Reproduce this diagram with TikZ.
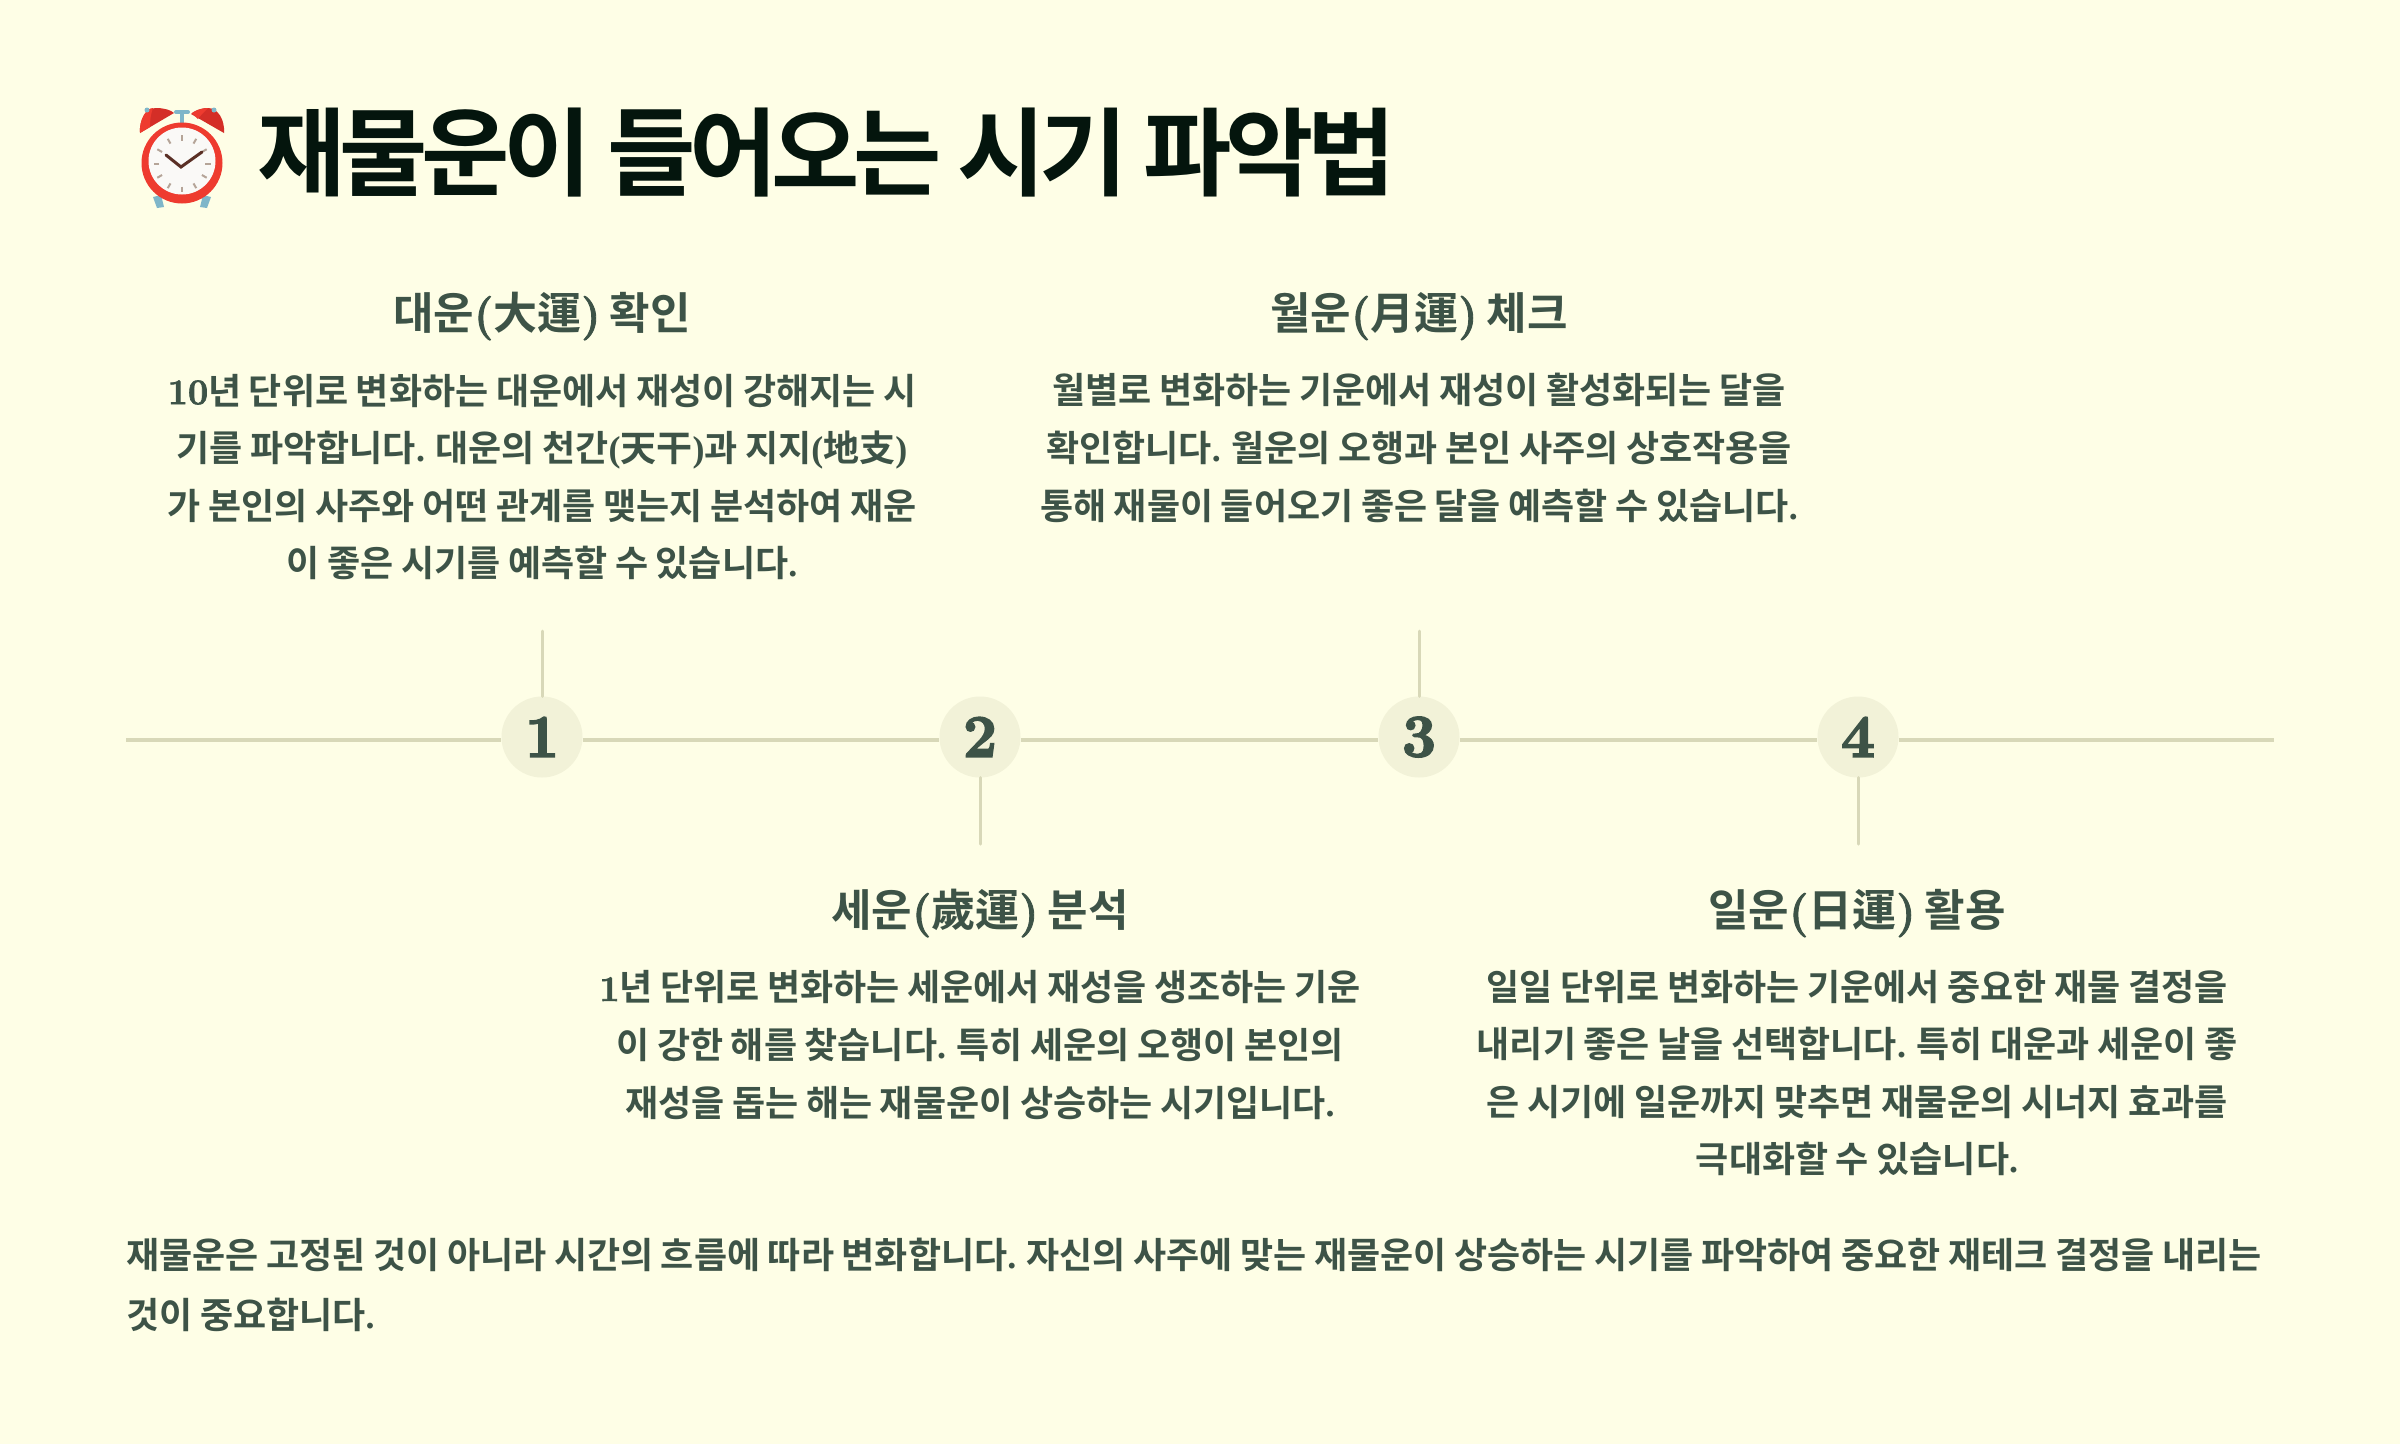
\documentclass[tikz,border=0pt]{standalone}
\usepackage{fontspec}
\newfontfamily\kr{Noto Sans CJK KR Bold}[WordSpace=0.93]
\newfontfamily\krb{Noto Sans CJK KR Bold}[LetterSpace=-6.5]
\newfontfamily\parf{Liberation Serif}
\newfontfamily\numf{Latin Modern Roman}[BoldFeatures={FakeBold=2}]
\newfontfamily\numc{Latin Modern Roman}[BoldFeatures={FakeBold=3.2}]
\newcommand\lat[1]{{\numf\bfseries #1}}
\newcommand\pun[1]{{\parf\bfseries #1}}
\definecolor{bgc}{HTML}{FEFEE6}
\definecolor{titlec}{HTML}{04150D}
\definecolor{bodyc}{HTML}{3D5347}
\definecolor{linec}{HTML}{D8D8B8}
\definecolor{circc}{HTML}{F2F2D8}
\definecolor{clockred}{HTML}{EE3B2F}
\definecolor{belldark}{HTML}{D42E27}
\definecolor{clockblue}{HTML}{7FB6C9}
\definecolor{facec}{HTML}{FAF9F7}
\definecolor{tickc}{HTML}{B5A498}
\definecolor{handc}{HTML}{5A2F25}
\tikzset{
  headtext/.style={inner sep=0pt,text=bodyc,font=\kr\fontsize{44}{54}\selectfont},
  bodytext/.style={inner sep=0pt,text=bodyc,align=center,font=\kr\fontsize{36}{57.6}\selectfont},
  foottext/.style={inner sep=0pt,text=bodyc,align=left,anchor=west,font=\kr\fontsize{36}{59.5}\selectfont},
  titletext/.style={inner sep=0pt,text=titlec,anchor=west,font=\krb\fontsize{96}{110}\selectfont},
  numdot/.style={circle,fill=circc,minimum size=81pt,inner sep=0pt,text=bodyc,font=\numc\bfseries\fontsize{60}{60}\selectfont},
  tline/.style={draw=linec,line width=4pt},
  vline/.style={draw=linec,line width=3pt,line cap=round},
}
\begin{document}
\begin{tikzpicture}[x=1pt,y=-1pt]
\fill[bgc] (0,0) rectangle (2400,1444);
\useasboundingbox (0,0) rectangle (2400,1444);
% clock icon
\fill[clockblue] (153,197) -- (161,195) -- (164,207) -- (157,208) -- cycle;
\fill[clockblue] (211,197) -- (203,195) -- (200,207) -- (207,208) -- cycle;
\draw[clockblue,line width=3.5pt] (182,113) -- (182,125);
\draw[clockblue,line width=4pt,line cap=round] (176,112) -- (188,112);
\fill[belldark] (140,133) .. controls (139,120) and (146,108) .. (156,108) .. controls (164,108) and (171,110) .. (174,113) -- cycle;
\fill[clockred] (140,133) .. controls (139,120) and (146,108) .. (153,108) .. controls (150,116) and (150,124) .. (150,127) -- cycle;
\fill[belldark] (224,133) .. controls (225,120) and (218,108) .. (208,108) .. controls (200,108) and (194,111) .. (191,114) -- cycle;
\fill[clockred] (192,113) .. controls (197,110) and (203,108) .. (208,108) .. controls (204,112) and (199,117) .. (198,119) -- cycle;
\fill[clockblue] (147,110) circle (2.5);
\fill[clockblue] (214,110) circle (2.5);
\fill[clockred] (182,163) circle (40.5);
\fill[facec] (182,161) circle (33.5);
\foreach \a in {0,30,...,330} {\draw[tickc,line width=2pt] (182,163.5) ++(\a:23) -- ++(\a:5.5);}
\draw[handc,line width=3pt,line cap=round] (166,155) -- (181,167) -- (202,152);
% timeline
\coordinate (tlstart) at (126,740);
\coordinate (tlend) at (2274,740);
\coordinate (top1) at (542,631);
\coordinate (top3) at (1419,631);
\coordinate (bot2) at (980,844);
\coordinate (bot4) at (1858,844);
\node[numdot] (n1) at (542,737) {1};
\node[numdot] (n2) at (980,737) {2};
\node[numdot] (n3) at (1419,737) {3};
\node[numdot] (n4) at (1858,737) {4};
\draw[tline] (tlstart) -- (n1.west |- tlstart);
\draw[tline] (n1.east |- tlstart) -- (n2.west |- tlstart);
\draw[tline] (n2.east |- tlstart) -- (n3.west |- tlstart);
\draw[tline] (n3.east |- tlstart) -- (n4.west |- tlstart);
\draw[tline] (n4.east |- tlstart) -- (tlend);
\draw[vline] (top1) -- (n1.north);
\draw[vline] (top3) -- (n3.north);
\draw[vline] (bot2) -- (n2.south);
\draw[vline] (bot4) -- (n4.south);
% texts
\node[titletext] (title) at (257,153) {재물운이 들어오는 시기 파악법};
\node[headtext] (h1) at (542,316) {대운\lat{(}大運\lat{)} 확인};
\node[bodytext] (b1) at (542,477) {\lat{10}년 단위로 변화하는 대운에서 재성이 강해지는 시\\기를 파악합니다\pun{.} 대운의 천간\pun{(}天干\pun{)}과 지지\pun{(}地支\pun{)}\\가 본인의 사주와 어떤 관계를 맺는지 분석하여 재운\\이 좋은 시기를 예측할 수 있습니다\pun{.}};
\node[headtext] (h3) at (1419,316) {월운\lat{(}月運\lat{)} 체크};
\node[bodytext] (b3) at (1419,448) {월별로 변화하는 기운에서 재성이 활성화되는 달을\\확인합니다\pun{.} 월운의 오행과 본인 사주의 상호작용을\\통해 재물이 들어오기 좋은 달을 예측할 수 있습니다\pun{.}};
\node[headtext] (h2) at (980,913) {세운\lat{(}歲運\lat{)} 분석};
\node[bodytext] (b2) at (980,1045) {\lat{1}년 단위로 변화하는 세운에서 재성을 생조하는 기운\\이 강한 해를 찾습니다\pun{.} 특히 세운의 오행이 본인의\\재성을 돕는 해는 재물운이 상승하는 시기입니다\pun{.}};
\node[headtext] (h4) at (1857,913) {일운\lat{(}日運\lat{)} 활용};
\node[bodytext] (b4) at (1857,1073) {일일 단위로 변화하는 기운에서 중요한 재물 결정을\\내리기 좋은 날을 선택합니다\pun{.} 특히 대운과 세운이 좋\\은 시기에 일운까지 맞추면 재물운의 시너지 효과를\\극대화할 수 있습니다\pun{.}};
\node[foottext] (foot) at (126,1285) {재물운은 고정된 것이 아니라 시간의 흐름에 따라 변화합니다\pun{.} 자신의 사주에 맞는 재물운이 상승하는 시기를 파악하여 중요한 재테크 결정을 내리는\\것이 중요합니다\pun{.}};
\end{tikzpicture}
\end{document}
